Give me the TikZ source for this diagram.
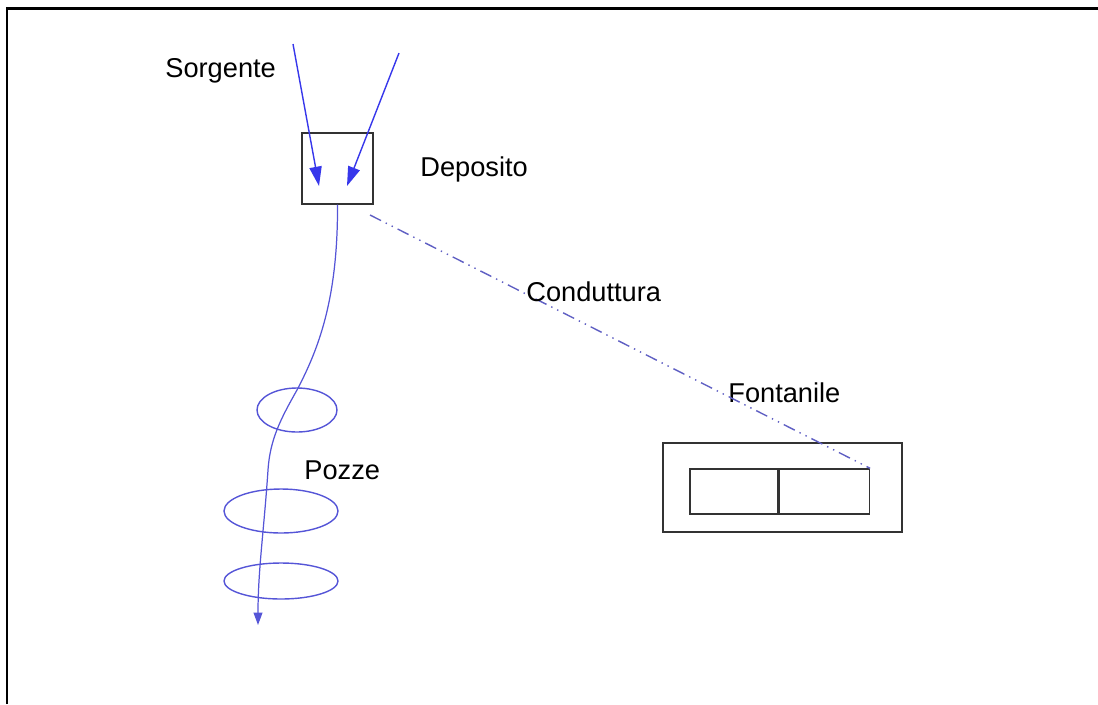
\documentclass[tikz,border=0pt]{standalone}
\usepackage{fontspec}
\setmainfont{Liberation Sans}
\usetikzlibrary{positioning,arrows.meta,shapes.geometric}

\definecolor{flowblue}{RGB}{55,55,235}
\definecolor{wellblue}{RGB}{85,85,215}
\definecolor{pipeblue}{RGB}{95,95,195}

\begin{document}
\begin{tikzpicture}[
  x=0.02cm, y=-0.02cm,
  every node/.style={font=\fontsize{15.5}{18}\selectfont},
  label/.style={anchor=base west, inner sep=0pt},
  box/.style={draw=black!80, line width=0.8pt, inner sep=0pt},
  well/.style={ellipse, draw=wellblue, line width=0.8pt, inner sep=0pt},
  inflow/.style={draw=flowblue, line width=0.8pt, -{Triangle[length=11pt, width=7pt]}},
  outflow/.style={draw=wellblue, line width=0.7pt, -{Triangle[length=7pt, width=5pt]}},
  pipe/.style={draw=pipeblue, line width=0.8pt, dash pattern=on 7pt off 3pt on 0.8pt off 3pt on 0.8pt off 3pt}
]
\useasboundingbox (0,0) rectangle (1098,704);
\draw[line width=1.3pt] (7,704) -- (7,8.5) -- (1098,8.5);

\def\px{0.02cm}
% deposito e sorgente
\node[box, minimum width=71*\px, minimum height=71*\px] (deposito) at (337.5,168.5) {};
\node[label] (lsorgente) at (165,77) {Sorgente};
\node[label] (ldeposito) at (420,176) {Deposito};
\coordinate (src1) at (293,44);
\coordinate (src2) at (399,53);
\coordinate (in1) at (319,186);
\coordinate (in2) at (347,186);
\draw[inflow] (src1) -- (in1);
\draw[inflow] (src2) -- (in2);

% pozze
\node[well, minimum width=80*\px, minimum height=44*\px] (pozza1) at (297,410) {};
\node[well, minimum width=114*\px, minimum height=44*\px] (pozza2) at (281,511) {};
\node[well, minimum width=114*\px, minimum height=36*\px] (pozza3) at (281,581) {};
\node[label] (lpozze) at (304,479) {Pozze};
\coordinate (scarico) at (258,625);
\draw[outflow] (deposito.south) .. controls (338,300) and (318,350) .. (297,390)
  .. controls (280,420) and (270,440) .. (268,470)
  .. controls (264,530) and (258,570) .. (scarico);

% fontanile
\node[box, minimum width=239*\px, minimum height=89*\px] (fontanile) at (782.5,487.5) {};
\node[box, minimum width=88*\px, minimum height=45*\px] (vascasx) at (734,491.5) {};
\node[box, minimum width=90*\px, minimum height=45*\px, right=0pt of vascasx] (vascadx) {};
\node[label] (lfontanile) at (728,402) {Fontanile};

% conduttura
\coordinate (tubo) at (370,215);
\draw[pipe] (tubo) -- (vascadx.north east);
\node[label] (lconduttura) at (526,301) {Conduttura};
\end{tikzpicture}
\end{document}
